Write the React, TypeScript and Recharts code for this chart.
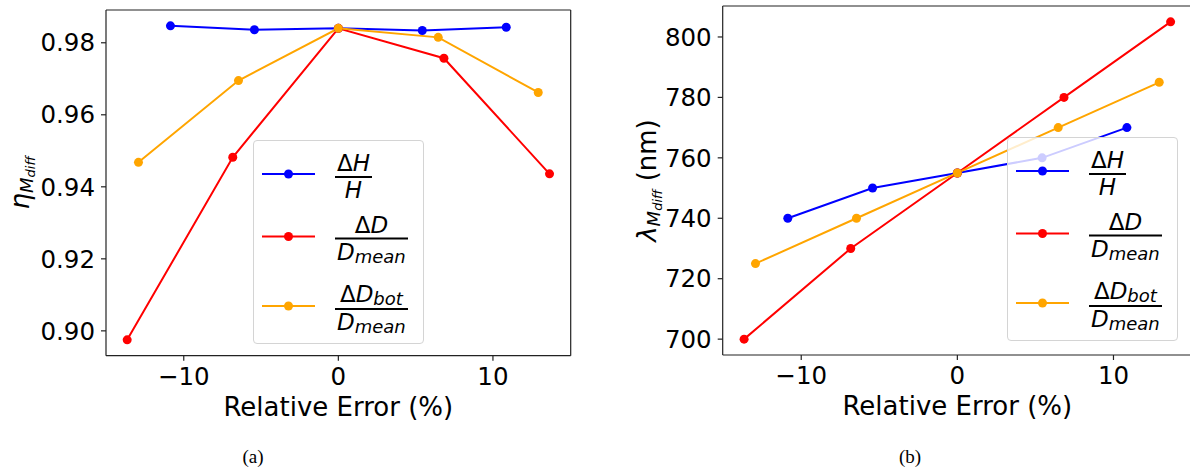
import React from "react"
import { LineChart, Line, XAxis, YAxis, Legend, ReferenceLine } from "recharts"

// relative error (%) of each perturbed parameter
const errH = [-10.86, -5.43, 0, 5.43, 10.86]
const errD = [-13.66, -6.83, 0, 6.83, 13.66]
const errDbot = [-12.93, -6.46, 0, 6.46, 12.93]

// (a) efficiency eta_Mdiff
const etaH = [0.9847, 0.9836, 0.984, 0.9834, 0.9843]
const etaD = [0.8975, 0.9482, 0.984, 0.9757, 0.9436]
const etaDbot = [0.9468, 0.9695, 0.984, 0.9815, 0.9662]

// (b) wavelength lambda_Mdiff (nm)
const lamH = [740, 750, 755, 760, 770]
const lamD = [700, 730, 755, 780, 805]
const lamDbot = [725, 740, 755, 770, 785]

const xTicks = [-10, 0, 10]
const etaTicks = [0.9, 0.92, 0.94, 0.96, 0.98]
const lamTicks = [700, 720, 740, 760, 780, 800]

const FONT = "'DejaVu Sans', sans-serif"
const AXIS = "#222"

const SERIES = [
  { key: "H", color: "#0000ff" },
  { key: "D", color: "#ff0000" },
  { key: "Dbot", color: "#ffa500" },
]

const toPoints = (xs: number[], ys: number[]) => xs.map((x, i) => ({ x, y: ys[i] }))

const fmtX = (v: number) => (v < 0 ? `\u2212${-v}` : `${v}`)

const tickStyle = { fontSize: 24.5, fill: "#000", fontFamily: FONT }

function Fraction({ num, den }: { num: React.ReactNode; den: React.ReactNode }) {
  return (
    <div style={{ display: "inline-flex", flexDirection: "column", alignItems: "center" }}>
      <div style={{ lineHeight: "23px", padding: "0 2px", whiteSpace: "nowrap" }}>{num}</div>
      <div style={{ alignSelf: "stretch", borderTop: "2px solid #000", margin: "1px 0" }} />
      <div style={{ lineHeight: "23px", padding: "0 2px", whiteSpace: "nowrap" }}>{den}</div>
    </div>
  )
}

const sub = (t: string) => (
  <span style={{ fontSize: 18, position: "relative", top: 3 }}>{t}</span>
)

const LABELS: Record<string, React.ReactNode> = {
  H: <Fraction num={<>Δ<i>H</i></>} den={<i>H</i>} />,
  D: <Fraction num={<>Δ<i>D</i></>} den={<i>D{sub("mean")}</i>} />,
  Dbot: <Fraction num={<>Δ<i>D{sub("bot")}</i></>} den={<i>D{sub("mean")}</i>} />,
}

const ROW_CENTERS = [35, 97, 166.5]

function LegendBox({ payload }: any) {
  const items = SERIES.map((s) => (payload || []).find((p: any) => p.value === s.key)).filter(Boolean)
  return (
    <div style={{ position: "relative", width: "100%", height: "100%", fontFamily: FONT, fontSize: 23, color: "#000" }}>
      {items.map((p: any, i: number) => (
        <div
          key={p.value}
          style={{
            position: "absolute",
            left: 8,
            top: ROW_CENTERS[i],
            transform: "translateY(-50%)",
            display: "flex",
            alignItems: "center",
          }}
        >
          <svg width={53} height={12} style={{ marginTop: -4 }}>
            <line x1={0} y1={6} x2={53} y2={6} stroke={p.color} strokeWidth={2} />
            <circle cx={26.5} cy={6} r={4.5} fill={p.color} />
          </svg>
          <div style={{ marginLeft: 20 }}>{LABELS[p.value]}</div>
        </div>
      ))}
    </div>
  )
}

function XLabel({ viewBox }: any) {
  const cx = viewBox.x + viewBox.width / 2
  return (
    <text x={cx} y={viewBox.y + 60} textAnchor="middle" fontFamily={FONT} fontSize={26} fill="#000">
      Relative Error (%)
    </text>
  )
}

function YLabel({ viewBox, cx, symbol, unit }: any) {
  const cy = viewBox.y + viewBox.height / 2
  return (
    <text
      x={cx}
      y={cy}
      transform={`rotate(-90 ${cx} ${cy})`}
      textAnchor="middle"
      fontFamily={FONT}
      fontSize={26}
      fill="#000"
    >
      <tspan fontStyle="italic">{symbol}</tspan>
      <tspan fontStyle="italic" fontSize={18} dy={4}>M</tspan>
      <tspan fontStyle="italic" fontSize={13} dy={2}>diff</tspan>
      {unit && <tspan dy={-6}>{` ${unit}`}</tspan>}
    </text>
  )
}

interface PanelProps {
  width: number
  margin: { top: number; right: number; bottom: number; left: number }
  yWidth: number
  xDomain: [number, number]
  yDomain: [number, number]
  yTicks: number[]
  yFormat: (v: number) => string
  ys: number[][]
  yLabel: React.ReactNode
  legendPos: { left: number; top: number }
}

function Panel({ width, margin, yWidth, xDomain, yDomain, yTicks, yFormat, ys, yLabel, legendPos }: PanelProps) {
  const xs = [errH, errD, errDbot]
  return (
    <LineChart width={width} height={470} margin={margin}>
      <XAxis
        type="number"
        dataKey="x"
        domain={xDomain}
        ticks={xTicks}
        tickFormatter={fmtX}
        allowDataOverflow
        height={50}
        tick={tickStyle}
        tickSize={5}
        tickMargin={7}
        stroke={AXIS}
        strokeWidth={1.2}
        label={<XLabel />}
      />
      <YAxis
        type="number"
        dataKey="y"
        domain={yDomain}
        ticks={yTicks}
        tickFormatter={yFormat}
        allowDataOverflow
        width={yWidth}
        tick={tickStyle}
        tickSize={5}
        tickMargin={6}
        stroke={AXIS}
        strokeWidth={1.2}
        label={yLabel}
      />
      {/* top and right spines */}
      <ReferenceLine y={yDomain[1]} stroke={AXIS} strokeWidth={1.2} />
      <ReferenceLine x={xDomain[1]} stroke={AXIS} strokeWidth={1.2} />
      {SERIES.map((s, i) => (
        <Line
          key={s.key}
          name={s.key}
          data={toPoints(xs[i], ys[i])}
          dataKey="y"
          type="linear"
          stroke={s.color}
          strokeWidth={2}
          dot={{ r: 4.5, fill: s.color, stroke: s.color, strokeWidth: 0 }}
          activeDot={false}
          isAnimationActive={false}
        />
      ))}
      <Legend
        layout="horizontal"
        align="center"
        verticalAlign="middle"
        content={(props: any) => <LegendBox payload={props.payload} />}
        wrapperStyle={{
          left: legendPos.left,
          top: legendPos.top,
          width: 171,
          height: 204,
          background: "rgba(255,255,255,0.8)",
          border: "1px solid #d4d4d4",
          borderRadius: 4,
          boxSizing: "border-box",
        }}
      />
    </LineChart>
  )
}

export default function App() {
  return (
    <div
      style={{
        position: "fixed",
        left: 0,
        top: 0,
        width: 1190,
        height: 470,
        overflow: "hidden",
        background: "#fff",
      }}
    >
      <div style={{ position: "absolute", left: 0, top: 0 }}>
        <Panel
          width={600}
          margin={{ top: 10, right: 29.3, bottom: 64.3, left: 0 }}
          yWidth={106}
          xDomain={[-15.03, 15.03]}
          yDomain={[0.8931, 0.9891]}
          yTicks={etaTicks}
          yFormat={(v) => v.toFixed(2)}
          ys={[etaH, etaD, etaDbot]}
          yLabel={<YLabel cx={29} symbol="η" />}
          legendPos={{ left: 253, top: 140 }}
        />
      </div>
      <div style={{ position: "absolute", left: 600, top: 0 }}>
        <Panel
          width={592}
          margin={{ top: 6, right: 0, bottom: 65, left: 0 }}
          yWidth={122.7}
          xDomain={[-15.03, 15.03]}
          yDomain={[694.75, 810.25]}
          yTicks={lamTicks}
          yFormat={(v) => `${v}`}
          ys={[lamH, lamD, lamDbot]}
          yLabel={<YLabel cx={56} symbol="λ" unit="(nm)" />}
          legendPos={{ left: 407, top: 137 }}
        />
      </div>
      <div
        style={{
          position: "absolute",
          left: 223,
          top: 446,
          width: 60,
          textAlign: "center",
          fontFamily: "'Liberation Serif', serif",
          fontSize: 19,
          lineHeight: "22px",
        }}
      >
        (a)
      </div>
      <div
        style={{
          position: "absolute",
          left: 880,
          top: 446,
          width: 60,
          textAlign: "center",
          fontFamily: "'Liberation Serif', serif",
          fontSize: 19,
          lineHeight: "22px",
        }}
      >
        (b)
      </div>
    </div>
  )
}
